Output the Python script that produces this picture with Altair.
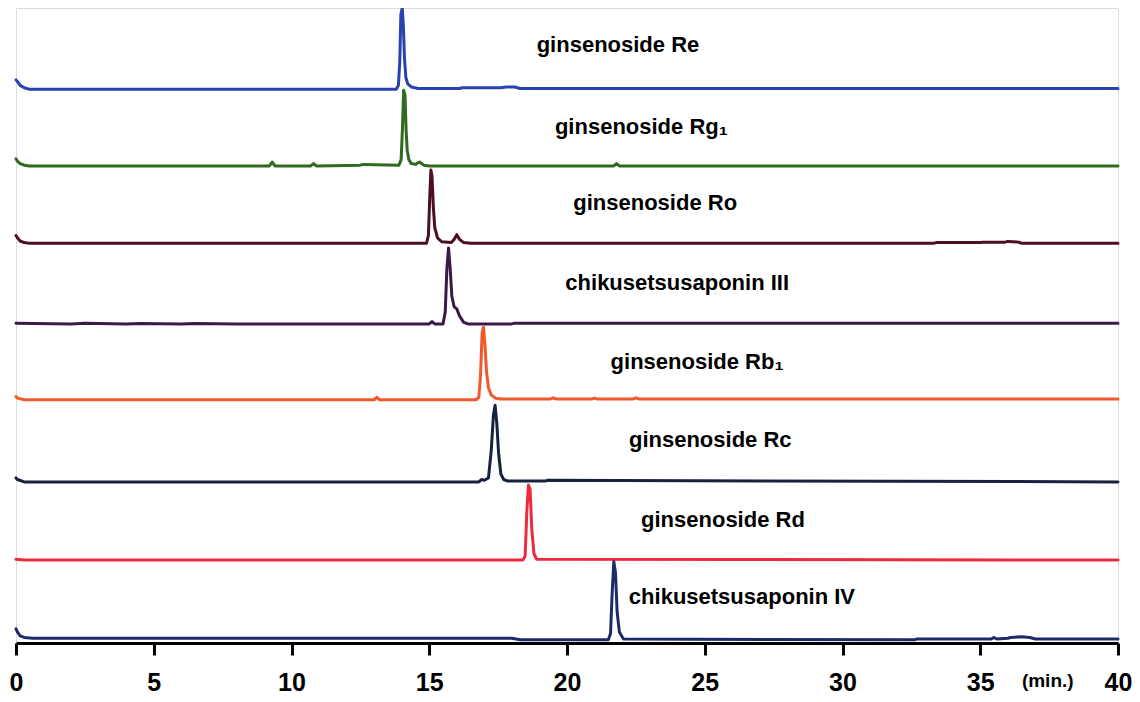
import altair as alt
import pandas as pd

# ---- trace names, colours, baseline offsets (stack position) ----
names = ["ginsenoside Re", "ginsenoside Rg1", "ginsenoside Ro", "chikusetsusaponin III",
         "ginsenoside Rb1", "ginsenoside Rc", "ginsenoside Rd", "chikusetsusaponin IV"]
label_text = ["ginsenoside Re", "ginsenoside Rg\u2081", "ginsenoside Ro", "chikusetsusaponin III",
              "ginsenoside Rb\u2081", "ginsenoside Rc", "ginsenoside Rd", "chikusetsusaponin IV"]
colors = ["#2742b2", "#2e6a1f", "#4b0f20", "#3b1846", "#ee5a2c", "#17223e", "#ec2a3d", "#1c2a68"]
offsets = [7.01, 6.04, 5.06, 4.04, 3.08, 2.04, 1.05, 0.04]

# label anchor (time in min, height in stack units)
label_t = [21.85, 22.7, 23.2, 24.0, 24.72, 25.2, 25.66, 26.35]
label_y = [7.57, 6.53, 5.57, 4.56, 3.56, 2.57, 1.56, 0.58]

# ---- chromatogram traces: retention time (min) and signal above baseline ----
re_t = [0, 0.05, 0.15, 0.3, 0.5, 13.8, 13.88, 13.93, 13.97, 14.02, 14.06, 14.1, 14.15, 14.22, 14.35, 14.6,
        16.1, 16.2, 17.6, 17.8, 18.1, 18.3, 40]
re_v = [0.12, 0.1, 0.05, 0.02, 0.0, 0.0, 0.05, 0.35, 0.95, 1.03, 0.8, 0.4, 0.15, 0.07, 0.03, 0.01,
        0.01, 0.02, 0.02, 0.03, 0.03, 0.01, 0.01]

rg1_t = [0, 0.05, 0.15, 0.3, 0.5, 9.2, 9.3, 9.4, 10.7, 10.8, 10.9, 12.5, 12.6, 13.9, 13.98, 14.03, 14.07,
         14.12, 14.16, 14.2, 14.26, 14.35, 14.5, 14.65, 14.8, 15.0, 21.7, 21.8, 21.9, 40]
rg1_v = [0.09, 0.06, 0.03, 0.01, 0.0, 0.0, 0.05, 0.0, 0.0, 0.03, 0.0, 0.01, 0.02, 0.01, 0.08, 0.5, 0.96,
         0.9, 0.45, 0.2, 0.08, 0.03, 0.02, 0.05, 0.01, 0.0, 0.0, 0.03, 0.0, 0.0]

ro_t = [0, 0.05, 0.15, 0.3, 0.5, 14.9, 14.97, 15.02, 15.06, 15.1, 15.15, 15.2, 15.3, 15.45, 15.8, 15.9,
        16.0, 16.1, 16.25, 16.5, 33.3, 33.4, 35.0, 35.1, 35.9, 36.0, 36.4, 36.5, 40]
ro_v = [0.1, 0.07, 0.03, 0.01, 0.0, 0.0, 0.1, 0.6, 0.93, 0.85, 0.45, 0.2, 0.07, 0.02, 0.01, 0.05,
        0.11, 0.05, 0.01, 0.0, 0.0, 0.01, 0.01, 0.015, 0.015, 0.025, 0.015, 0.0, 0.0]

c3_t = [0, 2, 2.5, 4, 4.5, 6, 6.5, 8, 8.5, 15.0, 15.1, 15.2, 15.5, 15.58, 15.64, 15.7, 15.76, 15.82, 15.9,
        16.0, 16.1, 16.25, 16.4, 18.0, 18.1, 40]
c3_v = [0.01, 0.0, 0.01, 0.0, 0.005, 0.0, 0.005, 0.0, 0.0, 0.0, 0.03, 0.0, 0.0, 0.15, 0.7, 0.96, 0.7, 0.35,
        0.22, 0.19, 0.1, 0.02, 0.0, 0.0, 0.01, 0.01]

rb1_t = [0, 0.05, 0.3, 0.5, 13.0, 13.1, 13.2, 16.7, 16.8, 16.86, 16.92, 16.97, 17.02, 17.08, 17.15, 17.25,
         17.4, 17.6, 19.4, 19.5, 19.6, 20.9, 21.0, 21.1, 22.4, 22.5, 22.6, 40]
rb1_v = [0.04, 0.02, 0.0, 0.0, 0.0, 0.03, 0.0, 0.0, 0.03, 0.3, 0.85, 0.92, 0.7, 0.35, 0.15, 0.06,
         0.02, 0.01, 0.01, 0.025, 0.01, 0.01, 0.02, 0.01, 0.01, 0.025, 0.01, 0.01]

rc_t = [0, 0.05, 0.3, 0.5, 16.8, 16.9, 17.0, 17.15, 17.25, 17.33, 17.39, 17.45, 17.52, 17.6, 17.7, 17.85,
        19.2, 19.3, 40]
rc_v = [0.05, 0.03, 0.0, 0.0, 0.0, 0.03, 0.02, 0.05, 0.4, 0.85, 0.97, 0.75, 0.35, 0.1, 0.03, 0.01,
        0.01, 0.02, 0.0]

rd_t = [0, 0.3, 18.4, 18.48, 18.54, 18.6, 18.66, 18.72, 18.8, 18.9, 40]
rd_v = [0.01, 0.0, 0.0, 0.05, 0.6, 0.95, 0.9, 0.4, 0.08, 0.01, 0.0]

c4_t = [0, 0.05, 0.15, 0.3, 0.6, 18.0, 18.3, 21.5, 21.58, 21.64, 21.7, 21.76, 21.82, 21.9, 22.05, 32.6,
        32.7, 35.4, 35.5, 35.6, 36.0, 36.1, 36.5, 36.8, 37.0, 40]
c4_v = [0.14, 0.1, 0.05, 0.03, 0.02, 0.02, 0.0, 0.0, 0.08, 0.6, 0.99, 0.85, 0.35, 0.1, 0.01, 0.0,
        0.01, 0.01, 0.03, 0.01, 0.02, 0.03, 0.04, 0.03, 0.01, 0.01]

x_ticks = [0, 5, 10, 15, 20, 25, 30, 35, 40]
unit_label = "(min.)"
unit_t, unit_y = 37.45, -0.48

traces = [(re_t, re_v), (rg1_t, rg1_v), (ro_t, ro_v), (c3_t, c3_v),
          (rb1_t, rb1_v), (rc_t, rc_v), (rd_t, rd_v), (c4_t, c4_v)]

rows = []
for i, (ts, vs) in enumerate(traces):
    for k, (t, v) in enumerate(zip(ts, vs)):
        rows.append({"trace": names[i], "t": t, "y": offsets[i] + v, "k": k})
df = pd.DataFrame(rows)

lab = pd.DataFrame({"trace": names, "text": label_text, "t": label_t, "y": label_y})
unit_df = pd.DataFrame({"text": [unit_label], "t": [unit_t], "y": [unit_y]})

FONT = "Liberation Sans"
xscale = alt.Scale(domain=[0, 40], nice=False, zero=False)
yscale = alt.Scale(domain=[0, 8.04], nice=False, zero=False)

lines = alt.Chart(df).mark_line(strokeWidth=3, strokeJoin="round", strokeCap="round").encode(
    x=alt.X("t:Q", scale=xscale,
            axis=alt.Axis(values=x_ticks, title=None, grid=False, domainColor="black", domainWidth=3,
                          tickColor="black", tickWidth=3, tickSize=12, labelFont=FONT, labelFontSize=25,
                          labelFontWeight="bold", labelColor="black", labelPadding=15, labelFlush=False,
                          format="d")),
    y=alt.Y("y:Q", scale=yscale, axis=None),
    color=alt.Color("trace:N", scale=alt.Scale(domain=names, range=colors), legend=None),
    order="k:Q",
)

labels = alt.Chart(lab).mark_text(font=FONT, fontSize=22, fontWeight="bold", color="black",
                                  align="center", baseline="middle").encode(
    x=alt.X("t:Q", scale=xscale), y=alt.Y("y:Q", scale=yscale), text="text:N")

unit = alt.Chart(unit_df).mark_text(font=FONT, fontSize=19, fontWeight="bold", color="black",
                                    align="center", baseline="middle").encode(
    x=alt.X("t:Q", scale=xscale), y=alt.Y("y:Q", scale=yscale), text="text:N")

chart = alt.layer(lines, labels, unit).properties(
    width=1102, height=635,
    autosize=alt.AutoSizeParams(type="none"),
    padding={"left": 8, "top": 0, "right": 14, "bottom": 56},
).configure_view(stroke=None).configure(background="white")

chart.save("out.html", embed_options={"renderer": "svg", "actions": False})
